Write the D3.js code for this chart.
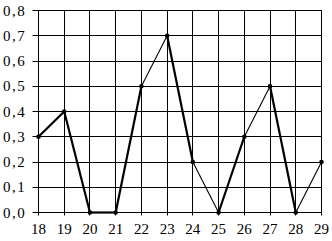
<!DOCTYPE html>
<html>
<head>
<meta charset="utf-8">
<script src="https://cdn.jsdelivr.net/npm/d3@7"></script>
<style>
  body { margin: 0; background: #fff; }
</style>
</head>
<body>
<div id="chart"></div>
<script>
// data
const xValues = [18, 19, 20, 21, 22, 23, 24, 25, 26, 27, 28, 29];
const yValues = [0.3, 0.4, 0, 0, 0.5, 0.7, 0.2, 0, 0.3, 0.5, 0, 0.2];
const yTicks = [0, 0.1, 0.2, 0.3, 0.4, 0.5, 0.6, 0.7, 0.8];
const yTickLabels = ["0,0", "0,1", "0,2", "0,3", "0,4", "0,5", "0,6", "0,7", "0,8"];

// segments (by start x) that look drawn thinner in the original
const thinStarts = [22, 24, 26, 28];

const width = 332, height = 241;
const margin = { top: 10.5, right: 10.5, bottom: 28.5, left: 38.5 };

const svg = d3.select('#chart')
    .append('svg')
    .attr('width', width)
    .attr('height', height);

const xScale = d3.scaleLinear()
    .domain([18, 29])
    .range([margin.left, width - margin.right]);

const yScale = d3.scaleLinear()
    .domain([0, 0.8])
    .range([height - margin.bottom, margin.top]);

// grid
svg.append('g')
    .selectAll('line')
    .data(xValues)
    .join('line')
    .attr('x1', d => Math.floor(xScale(d)) + 0.5)
    .attr('x2', d => Math.floor(xScale(d)) + 0.5)
    .attr('y1', Math.floor(yScale(0.8)) + 0.5)
    .attr('y2', yScale(0) + 3)
    .attr('stroke', '#000')
    .attr('stroke-width', 1);

svg.append('g')
    .selectAll('line')
    .data(yTicks)
    .join('line')
    .attr('x1', xScale(18) - 6)
    .attr('x2', Math.floor(xScale(29)) + 1)
    .attr('y1', d => Math.floor(yScale(d)) + 0.5)
    .attr('y2', d => Math.floor(yScale(d)) + 0.5)
    .attr('stroke', '#000')
    .attr('stroke-width', 1);

// y labels
svg.append('g')
    .selectAll('text')
    .data(yTicks)
    .join('text')
    .attr('x', 3)
    .attr('y', d => yScale(d) + 5)
    .style('font-family', 'Liberation Serif')
    .style('font-size', '15px')
    .style('letter-spacing', '1.5px')
    .text((d, i) => yTickLabels[i]);

// x labels
svg.append('g')
    .selectAll('text')
    .data(xValues)
    .join('text')
    .attr('x', d => xScale(d))
    .attr('y', yScale(0) + 21)
    .attr('text-anchor', 'middle')
    .style('font-family', 'Liberation Serif')
    .style('font-size', '15px')
    .text(d => d);

// the line, segment by segment
const points = xValues.map((x, i) => ({ x: x, y: yValues[i] }));
const segments = d3.pairs(points);

svg.append('g')
    .selectAll('line')
    .data(segments)
    .join('line')
    .attr('x1', d => xScale(d[0].x))
    .attr('y1', d => yScale(d[0].y))
    .attr('x2', d => xScale(d[1].x))
    .attr('y2', d => yScale(d[1].y))
    .attr('stroke', '#000')
    .attr('stroke-width', d => thinStarts.includes(d[0].x) ? 1.1 : 2.2);

svg.append('g')
    .selectAll('circle')
    .data(points)
    .join('circle')
    .attr('cx', d => xScale(d.x))
    .attr('cy', d => yScale(d.y))
    .attr('r', 2.3)
    .attr('fill', '#000');
</script>
</body>
</html>
